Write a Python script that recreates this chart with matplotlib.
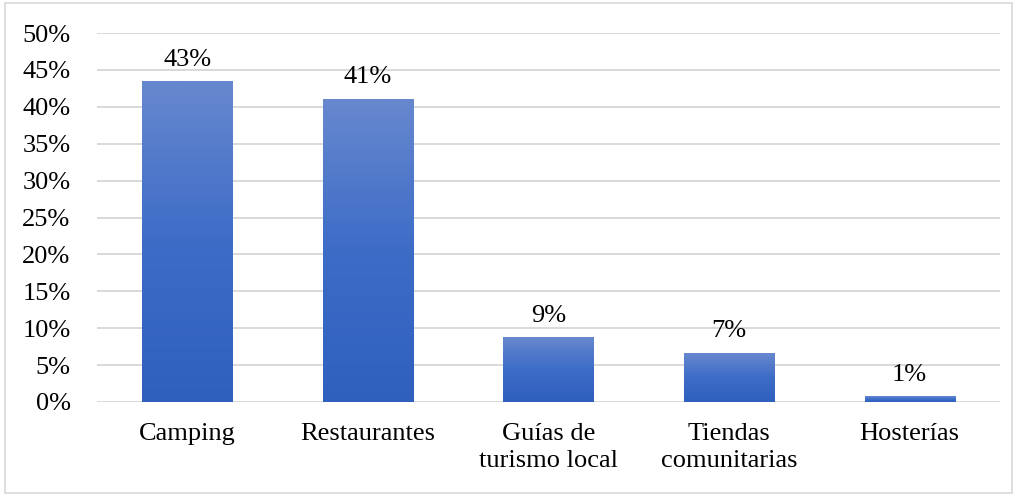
import numpy as np
import matplotlib.pyplot as plt
from matplotlib.colors import LinearSegmentedColormap
from matplotlib.patches import Rectangle

categories = ['Camping', 'Restaurantes', 'Guías de\nturismo local', 'Tiendas\ncomunitarias', 'Hosterías']
shares = [0.434, 0.410, 0.087, 0.066, 0.007]
y_ticks = [0.0, 0.05, 0.10, 0.15, 0.20, 0.25, 0.30, 0.35, 0.40, 0.45, 0.50]

plt.rcParams['font.family'] = ['Liberation Serif', 'DejaVu Serif']

fig = plt.figure(figsize=(10.16, 4.95), dpi=100)
ax = fig.add_axes([97 / 1016, 93 / 495, 903 / 1016, 369 / 495])

# thin grey frame round the whole chart
fig.patches.append(Rectangle((5 / 1016, 2 / 495), 1007 / 1016, 490 / 495,
                             transform=fig.transFigure, fill=False,
                             edgecolor='#D9D9D9', linewidth=1.2))

x = np.arange(len(categories))
bars = ax.bar(x, shares, width=0.5, color='none', edgecolor='none', zorder=3)

# vertical gradient inside each bar: lighter on top, darker at the base
grad = LinearSegmentedColormap.from_list('bar', ['#2F60BE', '#3D6CC7', '#6788CE'])
g = np.linspace(0, 1, 256).reshape(-1, 1)
for b in bars:
    x0, w, h = b.get_x(), b.get_width(), b.get_height()
    ax.imshow(g, cmap=grad, origin='lower', aspect='auto',
              extent=(x0, x0 + w, 0, h), zorder=3, interpolation='bilinear')
    ax.annotate(f'{round(h * 100):.0f}%', (x0 + w / 2, h), xytext=(0, 8),
                textcoords='offset points', ha='center', va='bottom', fontsize=19)

ax.set_xlim(-0.5, len(categories) - 0.5)
ax.set_ylim(0, 0.5)
ax.set_yticks(y_ticks)
ax.set_yticklabels([f'{t * 100:.0f}%' for t in y_ticks])
ax.set_xticks(x)
ax.set_xticklabels(categories, linespacing=1.3)
ax.tick_params(axis='y', length=0, pad=19, labelsize=19)
ax.tick_params(axis='x', length=0, pad=15, labelsize=19)
ax.grid(axis='y', color='#D9D9D9', linewidth=1.4, zorder=0)
ax.set_axisbelow(True)
for s in ax.spines.values():
    s.set_visible(False)

plt.savefig('out.png', dpi=100)
